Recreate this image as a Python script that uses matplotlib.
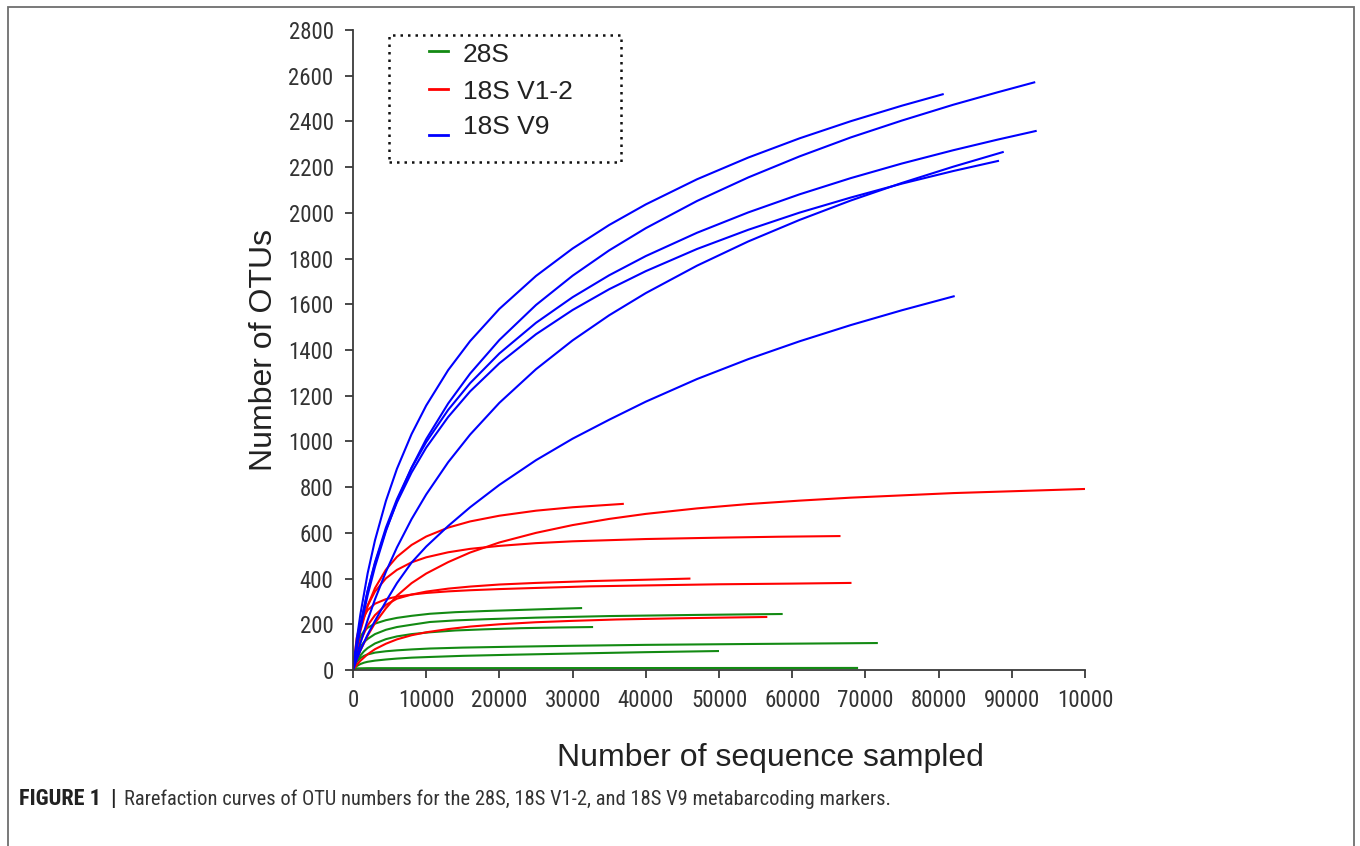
import matplotlib
matplotlib.use("Agg")
import matplotlib.pyplot as plt
from matplotlib import font_manager
from matplotlib.patches import Rectangle

# ---------------- data ----------------
series_names = ["28S", "18S V1-2", "18S V9"]
series_colors = ["#138a13", "#ff0000", "#0000ff"]

# 28S rarefaction curves
green_x = [
    [0, 250, 500, 1000, 1500, 2000, 3000, 4500, 6000, 8000, 10500, 14000, 18000, 23000, 28000, 31300],
    [0, 250, 500, 1000, 1500, 2000, 3000, 4500, 6000, 8000, 10500, 14000, 18000, 25000, 35000, 47000, 58700],
    [0, 250, 500, 1000, 1500, 2000, 3000, 4500, 6000, 8000, 10500, 14000, 18000, 23000, 28000, 32800],
    [0, 250, 500, 1000, 1500, 2000, 3000, 4500, 6000, 8000, 10500, 15000, 22000, 30000, 40000, 55000, 71700],
    [0, 250, 500, 1000, 1500, 2000, 3000, 4500, 6000, 8000, 10500, 15000, 22000, 30000, 40000, 50000],
    [0, 200, 500, 2000, 69000],
]
green_y = [
    [0, 60, 100, 145, 170, 185, 203, 218, 228, 237, 246, 253, 258, 263, 268, 271],
    [0, 40, 65, 100, 122, 136, 157, 176, 188, 198, 210, 217, 222, 229, 236, 241, 245],
    [0, 20, 38, 63, 82, 96, 116, 135, 147, 157, 165, 173, 178, 183, 186, 188],
    [0, 22, 35, 52, 62, 68, 76, 82, 86, 90, 94, 98, 102, 106, 110, 114, 118],
    [0, 10, 17, 26, 32, 36, 41, 46, 50, 54, 57, 62, 67, 72, 78, 83],
    [0, 5, 7, 8, 9],
]

# 18S V1-2 rarefaction curves
red_x = [
    [0, 500, 1000, 2000, 3000, 4500, 6000, 8000, 10000, 13000, 16000, 20000, 25000, 30000, 37000],
    [0, 500, 1000, 2000, 3000, 4500, 6000, 8000, 10000, 13000, 16000, 20000, 25000, 30000, 35000,
     40000, 47000, 54000, 61000, 68000, 75000, 82000, 90000, 100000],
    [0, 500, 1000, 2000, 3000, 4500, 6000, 8000, 10000, 13000, 16000, 20000, 25000, 30000, 40000,
     50000, 58000, 66600],
    [0, 500, 1000, 2000, 3000, 4500, 6000, 8000, 10000, 13000, 16000, 20000, 25000, 32400, 40000, 46100],
    [0, 500, 1000, 2000, 3000, 4500, 6000, 8000, 10000, 13000, 16000, 20000, 25000, 32400, 40000,
     50000, 60000, 68100],
    [0, 500, 1000, 2000, 3000, 4500, 6000, 8000, 10000, 13000, 16000, 20000, 25000, 30000, 36000,
     44000, 50000, 56600],
]
red_y = [
    [0, 95, 170, 281, 358, 439, 495, 547, 584, 623, 650, 675, 697, 712, 727],
    [0, 45, 85, 150, 205, 270, 325, 380, 422, 472, 514, 558, 600, 634, 661,
     683, 707, 726, 741, 754, 764, 774, 782, 792],
    [0, 108, 184, 282, 343, 401, 438, 471, 493, 515, 530, 543, 555, 563, 573,
     579, 583, 586],
    [0, 70, 125, 195, 240, 285, 312, 330, 343, 356, 365, 374, 381, 389, 395, 400],
    [0, 140, 205, 262, 290, 310, 321, 330, 337, 344, 349, 354, 359, 366, 370,
     375, 378, 381],
    [0, 22, 40, 69, 91, 115, 134, 152, 165, 179, 190, 200, 209, 215, 221,
     226, 229, 232],
]

# 18S V9 rarefaction curves
blue_x = [
    [0, 500, 1000, 2000, 3000, 4500, 6000, 8000, 10000, 13000, 16000, 20000, 25000, 30000, 35000,
     40000, 47000, 54000, 61000, 68000, 75000, 80700],
    [0, 500, 1000, 2000, 3000, 4500, 6000, 8000, 10000, 13000, 16000, 20000, 25000, 30000, 35000,
     40000, 47000, 54000, 61000, 68000, 75000, 82000, 88000, 93200],
    [0, 500, 1000, 2000, 3000, 4500, 6000, 8000, 10000, 13000, 16000, 20000, 25000, 30000, 35000,
     40000, 47000, 54000, 61000, 68000, 75000, 82000, 88000, 93400],
    [0, 500, 1000, 2000, 3000, 4500, 6000, 8000, 10000, 13000, 16000, 20000, 25000, 30000, 35000,
     40000, 47000, 54000, 61000, 68000, 75000, 82000, 88250],
    [0, 500, 1000, 2000, 3000, 4500, 6000, 8000, 10000, 13000, 16000, 20000, 25000, 30000, 35000,
     40000, 47000, 54000, 61000, 68000, 75000, 82000, 88900],
    [0, 500, 1000, 2000, 3000, 4500, 6000, 8000, 10000, 13000, 16000, 20000, 25000, 30000, 35000,
     40000, 47000, 54000, 61000, 68000, 75000, 82200],
]
blue_y = [
    [0, 131, 242, 423, 567, 740, 880, 1032, 1157, 1312, 1439, 1580, 1724, 1844, 1947,
     2037, 2147, 2242, 2326, 2401, 2469, 2520],
    [0, 95, 180, 327, 451, 608, 739, 885, 1010, 1166, 1297, 1444, 1597, 1725, 1836,
     1933, 2052, 2155, 2247, 2330, 2404, 2473, 2527, 2572],
    [0, 105, 196, 347, 471, 623, 747, 884, 997, 1138, 1255, 1385, 1519, 1631, 1727,
     1811, 1913, 2002, 2081, 2152, 2216, 2274, 2320, 2359],
    [0, 105, 195, 345, 466, 613, 733, 864, 973, 1107, 1219, 1342, 1469, 1575, 1666,
     1745, 1842, 1926, 2001, 2067, 2128, 2183, 2228],
    [0, 60, 116, 218, 309, 430, 536, 660, 768, 909, 1030, 1169, 1316, 1442, 1552,
     1649, 1769, 1875, 1969, 2054, 2131, 2202, 2267],
    [0, 45, 85, 155, 215, 300, 380, 470, 540, 630, 712, 810, 918, 1012, 1095,
     1174, 1273, 1360, 1438, 1509, 1574, 1636],
]

x_ticks = [0, 10000, 20000, 30000, 40000, 50000, 60000, 70000, 80000, 90000, 100000]
x_tick_labels = ["0", "10000", "20000", "30000", "40000", "50000", "60000",
                 "70000", "80000", "90000", "10000"]
y_ticks = list(range(0, 2801, 200))

x_label = "Number of sequence sampled"
y_label = "Number of OTUs"
caption_bold = "FIGURE 1"
caption_bar = "|"
caption_text = ("Rarefaction curves of OTU numbers for the 28S, 18S V1-2, "
                "and 18S V9 metabarcoding markers.")

# ---------------- fonts ----------------
available = {f.name for f in font_manager.fontManager.ttflist}
regular_font = "Liberation Sans" if "Liberation Sans" in available else "DejaVu Sans"
narrow_font = None
for cand in ["Liberation Sans Narrow", "Arial Narrow", "Roboto Condensed",
             "Archivo Narrow", "Open Sans Condensed"]:
    if cand in available:
        narrow_font = cand
        break
plt.rcParams["font.family"] = [regular_font, "DejaVu Sans"]

if narrow_font:
    tick_font, tick_size = narrow_font, 16.5
    cap_font, cap_size, capb_size = narrow_font, 14.8, 16
else:
    tick_font, tick_size = regular_font, 14.5
    cap_font, cap_size, capb_size = regular_font, 12.9, 13.5

W, H = 1360, 846
fig = plt.figure(figsize=(W / 100, H / 100), dpi=100)
fig.patch.set_facecolor("white")

# outer frame (open at bottom, cropped)
fig.add_artist(Rectangle((8 / W, -0.05), (1354 - 8) / W, 1.05 - 7 / H,
                         transform=fig.transFigure, fill=False,
                         edgecolor="#6e6e6e", linewidth=1.3))

ax = fig.add_axes([353 / W, 1 - 670 / H, (1085 - 353) / W, (670 - 30) / H])

groups = [(green_x, green_y), (red_x, red_y), (blue_x, blue_y)]
for (xs, ys), color in zip(groups, series_colors):
    for cx, cy in zip(xs, ys):
        ax.plot(cx, cy, color=color, linewidth=1.5, solid_capstyle="butt",
                solid_joinstyle="round")

ax.set_xlim(0, 100000)
ax.set_ylim(0, 2800)
for side in ("top", "right"):
    ax.spines[side].set_visible(False)
spine_color = "#3a3a3a"
for side in ("left", "bottom"):
    ax.spines[side].set_color(spine_color)
    ax.spines[side].set_linewidth(1.3)

ax.set_xticks(x_ticks)
ax.set_xticklabels(x_tick_labels)
ax.set_yticks(y_ticks)
ax.set_yticklabels([str(v) for v in y_ticks])
ax.tick_params(axis="both", direction="out", length=6, width=1.3,
               color=spine_color, labelcolor="#333333", labelsize=tick_size)
ax.tick_params(axis="x", pad=8)
ax.tick_params(axis="y", pad=8)
for lab in ax.get_xticklabels() + ax.get_yticklabels():
    lab.set_fontfamily([tick_font, "DejaVu Sans"])

ax.set_xlabel(x_label, fontsize=23, color="#222222")
ax.xaxis.set_label_coords((770 - 353) / 732, (670 - 743) / 640)
ax.set_ylabel(y_label, fontsize=23, color="#222222")
ax.yaxis.set_label_coords((279 - 353) / 732, 0.5)

# legend box (dotted frame) drawn in figure pixels
lx0, ly0, lx1, ly1 = 389, 35, 621, 162
fig.add_artist(Rectangle((lx0 / W, 1 - ly1 / H), (lx1 - lx0) / W, (ly1 - ly0) / H,
                         transform=fig.transFigure, fill=False, edgecolor="#111111",
                         linewidth=1.8, linestyle=(0, (1, 2))))
handle_y = [51, 89, 135]
text_y = [55, 92, 127]
for name, color, hy, ty in zip(series_names, series_colors, handle_y, text_y):
    fig.add_artist(plt.Line2D([429 / W, 448 / W], [1 - hy / H, 1 - hy / H],
                              transform=fig.transFigure, color=color, linewidth=2))
    fig.text(463 / W, 1 - ty / H, name, fontsize=19, color="#222222",
             ha="left", va="center")

# caption
fig.text(19 / W, 1 - 799 / H, caption_bold, fontsize=capb_size, fontweight="bold",
         family=[cap_font, "DejaVu Sans"], color="#222222",
         ha="left", va="center")
fig.text(110 / W, 1 - 799 / H, caption_bar, fontsize=capb_size, fontweight="bold",
         family=[cap_font, "DejaVu Sans"], color="#222222",
         ha="left", va="center")
fig.text(124 / W, 1 - 799 / H, caption_text, fontsize=cap_size,
         family=[cap_font, "DejaVu Sans"], color="#333333",
         ha="left", va="center")

fig.savefig("out.png", dpi=100, facecolor="white")
